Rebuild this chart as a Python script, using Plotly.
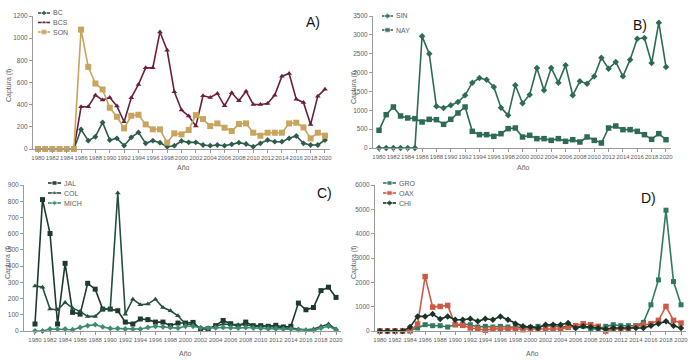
import plotly.graph_objects as go

years = list(range(1980, 2021))

BC = [0, 0, 0, 0, 0, 0, 177, 75, 111, 240, 81, 96, 30, 105, 150, 51, 75, 57, 21, 30,
      72, 60, 60, 36, 30, 36, 30, 42, 57, 45, 21, 51, 81, 66, 66, 96, 117, 51, 36, 36, 81]
BCS = [0, 0, 0, 0, 0, 0, 381, 381, 486, 441, 465, 387, 246, 462, 582, 732, 732, 1056, 891, 516,
       351, 297, 207, 480, 465, 501, 390, 507, 435, 522, 402, 402, 411, 486, 657, 681, 450, 420, 222, 477, 540]
SON = [0, 0, 0, 0, 0, 0, 1077, 741, 591, 537, 372, 291, 186, 300, 309, 222, 177, 177, 57, 141,
       132, 171, 306, 270, 207, 231, 192, 162, 225, 231, 147, 120, 147, 147, 147, 231, 237, 195, 96, 147, 120]

SIN = [0, 0, 0, 0, 0, 0, 2961, 2502, 1105, 1061, 1132, 1220, 1397, 1733, 1856, 1812, 1618, 1070, 866, 1662,
       1185, 1414, 2122, 1529, 2122, 1733, 2192, 1397, 1768, 1706, 1900, 2396, 2104, 2281, 1900, 2342, 2900, 2917, 2254, 3324, 2148]
NAY = [469, 884, 1087, 849, 796, 778, 690, 760, 751, 628, 760, 928, 1087, 442, 354, 354, 309, 380, 513, 530,
       292, 336, 248, 248, 203, 248, 177, 221, 159, 292, 203, 133, 530, 583, 486, 486, 442, 354, 230, 380, 221]

JAL = [43, 810, 601, 43, 417, 115, 104, 294, 258, 135, 135, 125, 55, 43, 74, 70, 55, 55, 33, 49,
       49, 53, 12, 14, 33, 65, 45, 29, 55, 33, 33, 29, 35, 25, 29, 172, 131, 145, 249, 270, 207]
COL = [278, 270, 135, 131, 176, 141, 121, 90, 90, 135, 135, 851, 104, 196, 162, 166, 196, 145, 125, 94,
       43, 39, 18, 12, 29, 43, 39, 39, 39, 29, 29, 25, 25, 18, 18, 12, 8, 12, 29, 43, 12]
MICH = [0, 0, 12, 12, 12, 8, 22, 33, 39, 25, 16, 16, 12, 12, 12, 22, 29, 25, 22, 18,
        29, 29, 20, 18, 20, 22, 20, 18, 22, 18, 16, 14, 14, 12, 12, 8, 4, 4, 18, 29, 8]

GRO = [0, 0, 0, 0, 20, 123, 260, 218, 218, 164, 260, 286, 259, 164, 191, 164, 191, 164, 164, 150,
       150, 191, 191, 218, 150, 191, 164, 191, 82, 82, 191, 259, 218, 218, 218, 355, 1077, 2100, 4964, 2032, 1077]
OAX = [0, 0, 0, 0, 0, 286, 2237, 982, 1009, 1050, 259, 232, 123, 95, 27, 95, 82, 82, 82, 55,
       82, 82, 82, 82, 82, 150, 218, 300, 259, 191, 0, 82, 82, 82, 191, 259, 300, 436, 1009, 436, 327]
CHI = [0, 0, 0, 0, 160, 600, 600, 696, 491, 600, 464, 464, 505, 396, 505, 464, 600, 464, 300, 191,
       164, 123, 259, 259, 259, 327, 123, 191, 164, 123, 82, 123, 123, 123, 123, 123, 218, 300, 396, 218, 123]

x_ticks = list(range(1980, 2021, 2))
x_ticklabels = [str(t) for t in x_ticks]

W, H = 693, 360
FONT = "Liberation Sans Narrow, Arial Narrow, Liberation Sans, Arial"
TICK_COLOR = "#5e5e5e"
AXIS_COLOR = "#9a9a9a"


def fx(px):
    return px / W


def fy(py):
    return 1 - py / H


# panel layout (pixel based)
panels = [
    dict(name="A)", xa="x", ya="y", xpx=(33, 330), ypx=(149, 16), xr=(1979.30, 2020.70), yr=(0, 1200), dt=200,
         lab=(313, 22), ano=(183, 167), cap=(9, 86),
         series=[("BC", BC, "#2d5c4a", "diamond", 4.5), ("BCS", BCS, "#6b1f3f", "triangle-up", 5),
                 ("SON", SON, "#c8a45c", "square", 6)],
         leg=(38, 50, 51, [13, 22.5, 32])),
    dict(name="B)", xa="x2", ya="y2", xpx=(373, 671), ypx=(148, 16), xr=(1979.16, 2020.70), yr=(0, 3500), dt=500,
         lab=(640, 25), ano=(523, 167), cap=(354, 88),
         series=[("SIN", SIN, "#2e6b55", "diamond", 5), ("NAY", NAY, "#2e6b55", "square", 5.5)],
         leg=(382, 393, 394, [16, 30])),
    dict(name="C)", xa="x3", ya="y3", xpx=(24, 341), ypx=(331, 185), xr=(1978.54, 2020.66), yr=(0, 900), dt=100,
         lab=(324, 193), ano=(185, 353), cap=(8, 263),
         series=[("JAL", JAL, "#1e3a2c", "square", 5), ("COL", COL, "#24503c", "triangle-up", 5),
                 ("MICH", MICH, "#3d8c72", "diamond", 4.5)],
         leg=(48, 61, 62, [183, 193, 203])),
    dict(name="D)", xa="x4", ya="y4", xpx=(375, 686), ypx=(331, 185), xr=(1979.34, 2020.66), yr=(0, 6000), dt=1000,
         lab=(648, 198), ano=(532, 353), cap=(354, 263),
         series=[("GRO", GRO, "#2f7a60", "square", 5), ("OAX", OAX, "#cc5a44", "square", 5.5),
                 ("CHI", CHI, "#1b3326", "diamond", 5)],
         leg=(383, 396, 397, [183, 193, 203])),
]

fig = go.Figure()
annotations = []
layout = {}

for i, p in enumerate(panels):
    n = "" if i == 0 else str(i + 1)
    layout["xaxis" + n] = dict(
        domain=[fx(p["xpx"][0]), fx(p["xpx"][1])], range=list(p["xr"]), anchor=p["ya"],
        tickmode="array", tickvals=x_ticks, ticktext=x_ticklabels, automargin=False,
        showgrid=False, zeroline=False, showline=True, linecolor=AXIS_COLOR, linewidth=1,
        ticks="outside", ticklen=3, tickcolor=AXIS_COLOR, tickangle=0,
        tickfont=dict(family=FONT, size=6, color=TICK_COLOR),
    )
    layout["yaxis" + n] = dict(
        domain=[fy(p["ypx"][0]), fy(p["ypx"][1])], range=list(p["yr"]), anchor=p["xa"],
        dtick=p["dt"], tick0=0, automargin=False,
        showgrid=False, zeroline=False, showline=True, linecolor=AXIS_COLOR, linewidth=1,
        ticks="outside", ticklen=3, tickcolor=AXIS_COLOR,
        tickfont=dict(family=FONT, size=6.5, color=TICK_COLOR),
    )
    for (nm, vals, col, sym, ms) in p["series"]:
        fig.add_trace(go.Scatter(
            x=years, y=vals, name=nm, mode="lines+markers", xaxis=p["xa"], yaxis=p["ya"],
            line=dict(color=col, width=1.6), marker=dict(symbol=sym, size=ms, color=col),
            cliponaxis=False, showlegend=False,
        ))
    # panel label
    annotations.append(dict(text=p["name"], x=fx(p["lab"][0]), y=fy(p["lab"][1]), xref="paper", yref="paper",
                            xanchor="center", yanchor="middle", showarrow=False,
                            font=dict(family="Liberation Sans, Arial", size=14, color="#111111")))
    annotations.append(dict(text="Año", x=fx(p["ano"][0]), y=fy(p["ano"][1]), xref="paper", yref="paper",
                            xanchor="center", yanchor="middle", showarrow=False,
                            font=dict(family=FONT, size=7, color=TICK_COLOR)))
    annotations.append(dict(text="Captura (t)", x=fx(p["cap"][0]), y=fy(p["cap"][1]), xref="paper", yref="paper",
                            xanchor="center", yanchor="middle", showarrow=False, textangle=-90,
                            font=dict(family="Liberation Sans, Arial", size=7, color=TICK_COLOR)))
    # custom compact legend
    lx0, lx1, tx, rows = p["leg"]
    for (nm, vals, col, sym, ms), ry in zip(p["series"], rows):
        fig.add_trace(go.Scatter(
            x=[lx0, (lx0 + lx1) / 2, lx1], y=[ry, ry, ry], mode="lines+markers", xaxis="x5", yaxis="y5",
            line=dict(color=col, width=1.6), marker=dict(symbol=sym, size=[0, ms, 0], color=col),
            showlegend=False, hoverinfo="skip",
        ))
        annotations.append(dict(text=nm, x=fx(tx), y=fy(ry), xref="paper", yref="paper", xanchor="left",
                                yanchor="middle", showarrow=False,
                                font=dict(family=FONT, size=7, color=TICK_COLOR)))

layout["xaxis5"] = dict(domain=[0, 1], range=[0, W], visible=False, anchor="y5", fixedrange=True, automargin=False)
layout["yaxis5"] = dict(domain=[0, 1], range=[H, 0], visible=False, anchor="x5", fixedrange=True, automargin=False)

fig.update_layout(
    width=W, height=H, margin=dict(l=0, r=0, t=0, b=0, autoexpand=False),
    paper_bgcolor="white", plot_bgcolor="rgba(0,0,0,0)",
    annotations=annotations, showlegend=False,
    **layout,
)

fig.write_html(
    "out.html",
    config={"displayModeBar": False},
    post_script="document.body.style.margin='0px';document.body.style.padding='0px';"
                "document.body.style.overflow='hidden';",
)
